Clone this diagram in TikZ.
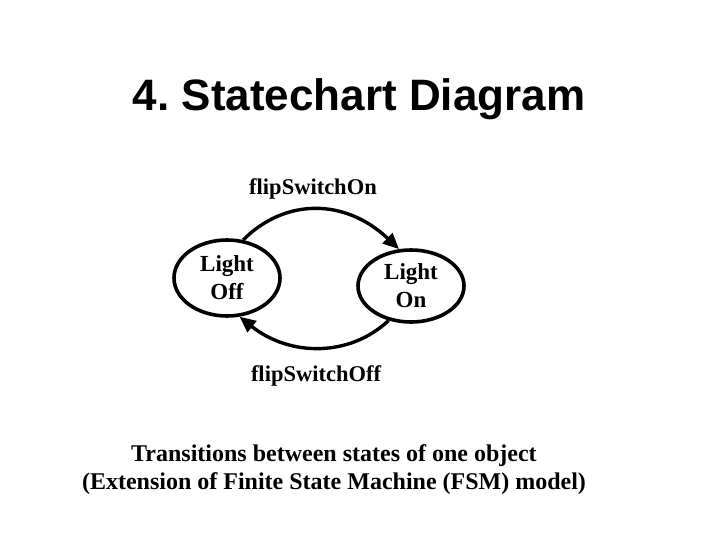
\documentclass[tikz,border=0pt]{standalone}
\usepackage{fontspec}
\setmainfont{Liberation Serif}
\newfontfamily\arialf{Liberation Sans}
\usetikzlibrary{arrows.meta,shapes.geometric}
\frenchspacing
\tikzset{
  statebox/.style={ellipse, draw, line width=3.6pt, inner sep=0pt, minimum width=106pt, minimum height=76pt, align=center, font=\fontsize{23}{28}\selectfont\bfseries},
  trans/.style={line width=3.4pt, -{Triangle[length=16pt,width=14pt]}},
  lbl/.style={font=\fontsize{22.5}{27}\selectfont\bfseries, inner sep=0pt},
}
\begin{document}
\begin{tikzpicture}[x=1pt,y=-1pt]
\useasboundingbox (0,0) rectangle (720,540);
\node[font=\arialf\fontsize{44}{50}\selectfont\bfseries, anchor=base] (title) at (359,111) {4. Statechart Diagram};
\node[statebox] (off) at (227,278) {Light\\Off};
\node[statebox, minimum height=72pt] (on) at (411,286) {Light\\On};
\draw[trans] (off.67) .. controls (285,198) and (345,198) .. (on.108);
\draw[trans] (on.-123) .. controls (350,357) and (290,357) .. (off.-72);
\node[lbl, anchor=base] (lon) at (313,195) {flipSwitchOn};
\node[lbl, anchor=base] (loff) at (316,381) {flipSwitchOff};
\node[align=center, font=\fontsize{24}{28}\selectfont\bfseries, anchor=base] (cap) at (334,489) {Transitions between states of one object\\(Extension of Finite State Machine (FSM) model)};
\end{tikzpicture}
\end{document}
